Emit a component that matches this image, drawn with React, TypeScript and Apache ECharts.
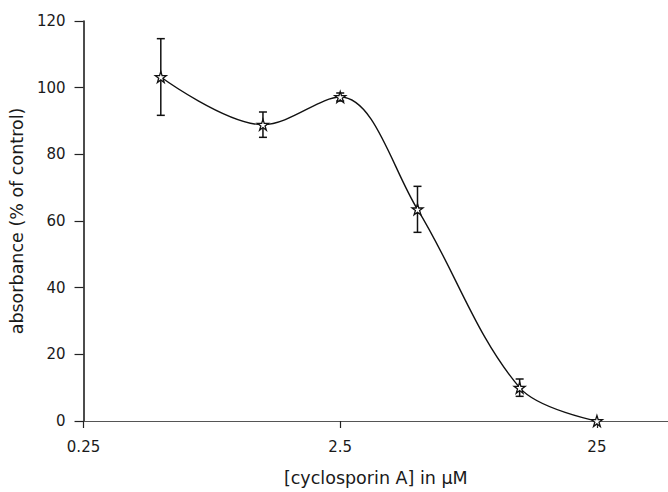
import React, { useEffect, useRef } from "react";
import * as echarts from "echarts";

// concentrations of cyclosporin A (µM)
const concentrations = [0.5, 1.25, 2.5, 5, 12.5, 25];
// absorbance (% of control)
const absorbance = [103.2, 88.9, 97.2, 63.5, 10, 0];
// symmetric error (± % of control)
const errors = [11.5, 3.8, 1.2, 6.9, 2.6, 0];
// x tick labels (decades starting at 0.25 µM)
const xTickLabels = ["0.25", "2.5", "25"];
const xBase = 0.25;
const xMaxConc = 47.3;

const toX = (c: number) => Math.log10(c / xBase);

const STAR =
  "path://M50,2 L61,36 L97,36 L68,57 L79,92 L50,71 L21,92 L32,57 L3,36 L39,36 Z";

export default function App() {
  const ref = useRef<HTMLDivElement>(null);
  useEffect(() => {
    if (!ref.current) return;
    const chart = echarts.init(ref.current, null, { renderer: "svg" });
    const lineData = concentrations.map((c, i) => [toX(c), absorbance[i]]);
    const errData = concentrations
      .map((c, i) => [toX(c), absorbance[i] - errors[i], absorbance[i] + errors[i], errors[i]])
      .filter((d) => d[3] > 0);
    const tickPositions = xTickLabels.map((_, i) => i);
    const font = "DejaVu Sans";
    chart.setOption({
      animation: false,
      backgroundColor: "#ffffff",
      grid: { left: 81, right: 0, top: 21, bottom: 66, containLabel: false },
      xAxis: {
        type: "value",
        min: 0,
        max: toX(xMaxConc),
        interval: 1,
        name: "[cyclosporin A] in μM",
        nameLocation: "middle",
        nameGap: 48,
        nameTextStyle: { fontFamily: font, fontSize: 17.5, color: "#1a1a1a" },
        axisLine: { onZero: true, lineStyle: { color: "#555", width: 1.2 } },
        axisTick: {
          show: true,
          length: 7,
          customValues: tickPositions,
          lineStyle: { color: "#222", width: 1.2 },
        },
        axisLabel: {
          fontFamily: font,
          fontSize: 15,
          color: "#1a1a1a",
          margin: 18,
          customValues: tickPositions,
          formatter: (v: number) => {
            const r = Math.round(v);
            return xTickLabels[r] !== undefined ? xTickLabels[r] : "";
          },
        },
        splitLine: { show: false },
      },
      yAxis: {
        type: "value",
        min: 0,
        max: 120,
        interval: 20,
        name: "absorbance (% of control)",
        nameLocation: "middle",
        nameGap: 49,
        nameTextStyle: { fontFamily: font, fontSize: 17.5, color: "#1a1a1a" },
        axisLine: { show: true, lineStyle: { color: "#111", width: 1.5 } },
        axisTick: { show: true, length: 9, lineStyle: { color: "#222", width: 1.2 } },
        axisLabel: { fontFamily: font, fontSize: 15, color: "#1a1a1a", margin: 18 },
        splitLine: { show: false },
      },
      series: [
        {
          type: "line",
          data: lineData,
          smooth: 0.35,
          symbol: STAR,
          symbolSize: 11,
          itemStyle: { color: "#ffffff", borderColor: "#111", borderWidth: 1.3 },
          lineStyle: { color: "#111", width: 1.4 },
          z: 3,
        },
        {
          type: "custom",
          data: errData,
          z: 2,
          renderItem: (params: any, api: any) => {
            const x = api.value(0);
            const lo = api.coord([x, api.value(1)]);
            const hi = api.coord([x, api.value(2)]);
            const cap = 4;
            const style = { stroke: "#111", lineWidth: 1.5 };
            return {
              type: "group",
              children: [
                { type: "line", shape: { x1: lo[0], y1: lo[1], x2: hi[0], y2: hi[1] }, style },
                { type: "line", shape: { x1: lo[0] - cap, y1: lo[1], x2: lo[0] + cap, y2: lo[1] }, style },
                { type: "line", shape: { x1: hi[0] - cap, y1: hi[1], x2: hi[0] + cap, y2: hi[1] }, style },
              ],
            };
          },
        },
      ],
    });
    return () => chart.dispose();
  }, []);
  return (
    <div
      ref={ref}
      style={{ position: "fixed", left: 0, top: 0, width: 668, height: 492, background: "#fff" }}
    />
  );
}
